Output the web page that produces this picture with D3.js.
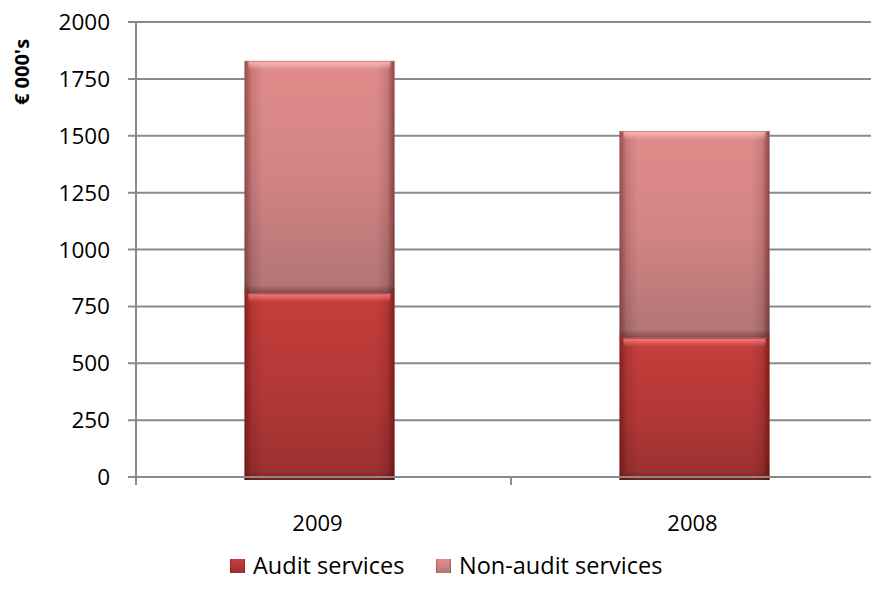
<!DOCTYPE html>
<html>
<head>
<meta charset="utf-8">
<script src="https://cdn.jsdelivr.net/npm/d3@7"></script>
<style>
  html, body { margin: 0; padding: 0; background: #fff; }
  svg { display: block; font-family: "Open Sans", "Noto Sans", sans-serif; }
</style>
</head>
<body>
<svg id="chart" width="871" height="603"></svg>
<script>
const categories = ["2009", "2008"];
const auditServices = [808, 612];
const nonAuditServices = [1021, 909];
const yTicks = [0, 250, 500, 750, 1000, 1250, 1500, 1750, 2000];
const seriesNames = ["Audit services", "Non-audit services"];

const svg = d3.select("#chart");
const W = 871, H = 603;
const axisX = 136;

const y = d3.scaleLinear().domain([0, 2000]).range([477, 22]);
const x = d3.scaleBand().domain(categories).range([132, 882]).paddingInner(0.6).paddingOuter(0.3);

const defs = svg.append("defs");
function vgrad(id, stops) {
  const g = defs.append("linearGradient").attr("id", id).attr("x1", 0).attr("y1", 0).attr("x2", 0).attr("y2", 1);
  stops.forEach(s => g.append("stop").attr("offset", s[0]).attr("stop-color", s[1]).attr("stop-opacity", s[2] === undefined ? 1 : s[2]));
}
function hgrad(id, stops) {
  const g = defs.append("linearGradient").attr("id", id).attr("x1", 0).attr("y1", 0).attr("x2", 1).attr("y2", 0);
  stops.forEach(s => g.append("stop").attr("offset", s[0]).attr("stop-color", s[1]).attr("stop-opacity", s[2] === undefined ? 1 : s[2]));
}
vgrad("gAudit", [[0, "#c53e3c"], [0.6, "#b03736"], [1, "#98302f"]]);
vgrad("gNon", [[0, "#e08c8b"], [0.5, "#d28383"], [1, "#b07474"]]);
hgrad("gSides", [[0, "#3a0000", 0.45], [0.05, "#3a0000", 0.12], [0.12, "#000", 0], [0.88, "#000", 0], [0.95, "#3a0000", 0.12], [1, "#3a0000", 0.5]]);
vgrad("gTopAudit", [[0, "#ff8a8a", 0.9], [1, "#ff8a8a", 0]]);
vgrad("gTopNon", [[0, "#ffc4c4", 0.9], [1, "#ffc4c4", 0]]);
vgrad("gBottom", [[0, "#300000", 0], [1, "#300000", 0.35]]);

// gridlines
svg.append("g").selectAll("line").data(yTicks).join("line")
  .attr("x1", axisX - 8).attr("x2", W)
  .attr("y1", d => y(d)).attr("y2", d => y(d))
  .attr("stroke", "#8a8a8a").attr("stroke-width", 2);

// y tick labels
svg.append("g").selectAll("text").data(yTicks).join("text")
  .attr("x", 110).attr("y", d => y(d)).attr("dy", "0.36em")
  .attr("text-anchor", "end").attr("font-size", 22.5).attr("fill", "#000")
  .text(d => d);

// stacked data
const rows = categories.map((c, i) => ({ cat: c, audit: auditServices[i], non: nonAuditServices[i] }));
const stack = d3.stack().keys(["audit", "non"])(rows);
const fills = { audit: "gAudit", non: "gNon" };
const tops = { audit: "gTopAudit", non: "gTopNon" };

const bars = svg.append("g");
stack.forEach(layer => {
  const key = layer.key;
  layer.forEach(d => {
    const x0 = x(d.data.cat), bw = x.bandwidth();
    const yTop = y(d[1]);
    const yBot = key === "audit" ? y(d[0]) + 3 : y(d[0]);
    const h = yBot - yTop;
    const g = bars.append("g");
    g.append("rect").attr("x", x0).attr("y", yTop).attr("width", bw).attr("height", h).attr("fill", `url(#${fills[key]})`);
    g.append("rect").attr("x", x0).attr("y", yTop).attr("width", bw).attr("height", h).attr("fill", "url(#gSides)");
    g.append("rect").attr("x", x0 + 4).attr("y", yTop).attr("width", bw - 8).attr("height", 9).attr("fill", `url(#${tops[key]})`);
    g.append("rect").attr("x", x0).attr("y", yBot - 8).attr("width", bw).attr("height", 8).attr("fill", "url(#gBottom)");
    g.append("rect").attr("x", x0).attr("y", yTop).attr("width", bw).attr("height", 1.2).attr("fill", key === "audit" ? "#a33" : "#b77").attr("opacity", 0.7);
  });
});

// y axis line
svg.append("line").attr("x1", axisX).attr("x2", axisX).attr("y1", y(2000)).attr("y2", y(0) + 8)
  .attr("stroke", "#8a8a8a").attr("stroke-width", 2);
// x axis line
svg.append("line").attr("x1", axisX - 8).attr("x2", W).attr("y1", y(0)).attr("y2", y(0))
  .attr("stroke", "#8a8a8a").attr("stroke-width", 2);
// x category boundary ticks
const step = x.step();
[0, 1].forEach(k => {
  const tx = axisX + k * step;
  svg.append("line").attr("x1", tx).attr("x2", tx).attr("y1", y(0)).attr("y2", y(0) + 8)
    .attr("stroke", "#8a8a8a").attr("stroke-width", 2);
});

// x labels
svg.append("g").selectAll("text").data(categories).join("text")
  .attr("x", d => x(d) + x.bandwidth() / 2 - 2).attr("y", 523).attr("dy", "0.36em")
  .attr("text-anchor", "middle").attr("font-size", 22).attr("fill", "#000")
  .text(d => d);

// y axis title
svg.append("text").attr("transform", "translate(29,72) rotate(-90)")
  .attr("text-anchor", "middle").attr("font-size", 20).attr("font-weight", "bold").attr("fill", "#000")
  .text("€ 000's");

// legend
const legend = svg.append("g");
const legendItems = [
  { name: seriesNames[0], fill: "gAudit", x: 230 },
  { name: seriesNames[1], fill: "gNon", x: 436 }
];
const ly = 566;
legendItems.forEach(it => {
  const g = legend.append("g");
  g.append("rect").attr("x", it.x).attr("y", ly - 7).attr("width", 15).attr("height", 14).attr("fill", `url(#${it.fill})`);
  g.append("rect").attr("x", it.x).attr("y", ly - 7).attr("width", 15).attr("height", 14).attr("fill", "url(#gSides)");
  g.append("text").attr("x", it.x + 23).attr("y", ly).attr("dy", "0.36em")
    .attr("font-size", 23.5).attr("fill", "#000").text(it.name);
});
</script>
</body>
</html>
